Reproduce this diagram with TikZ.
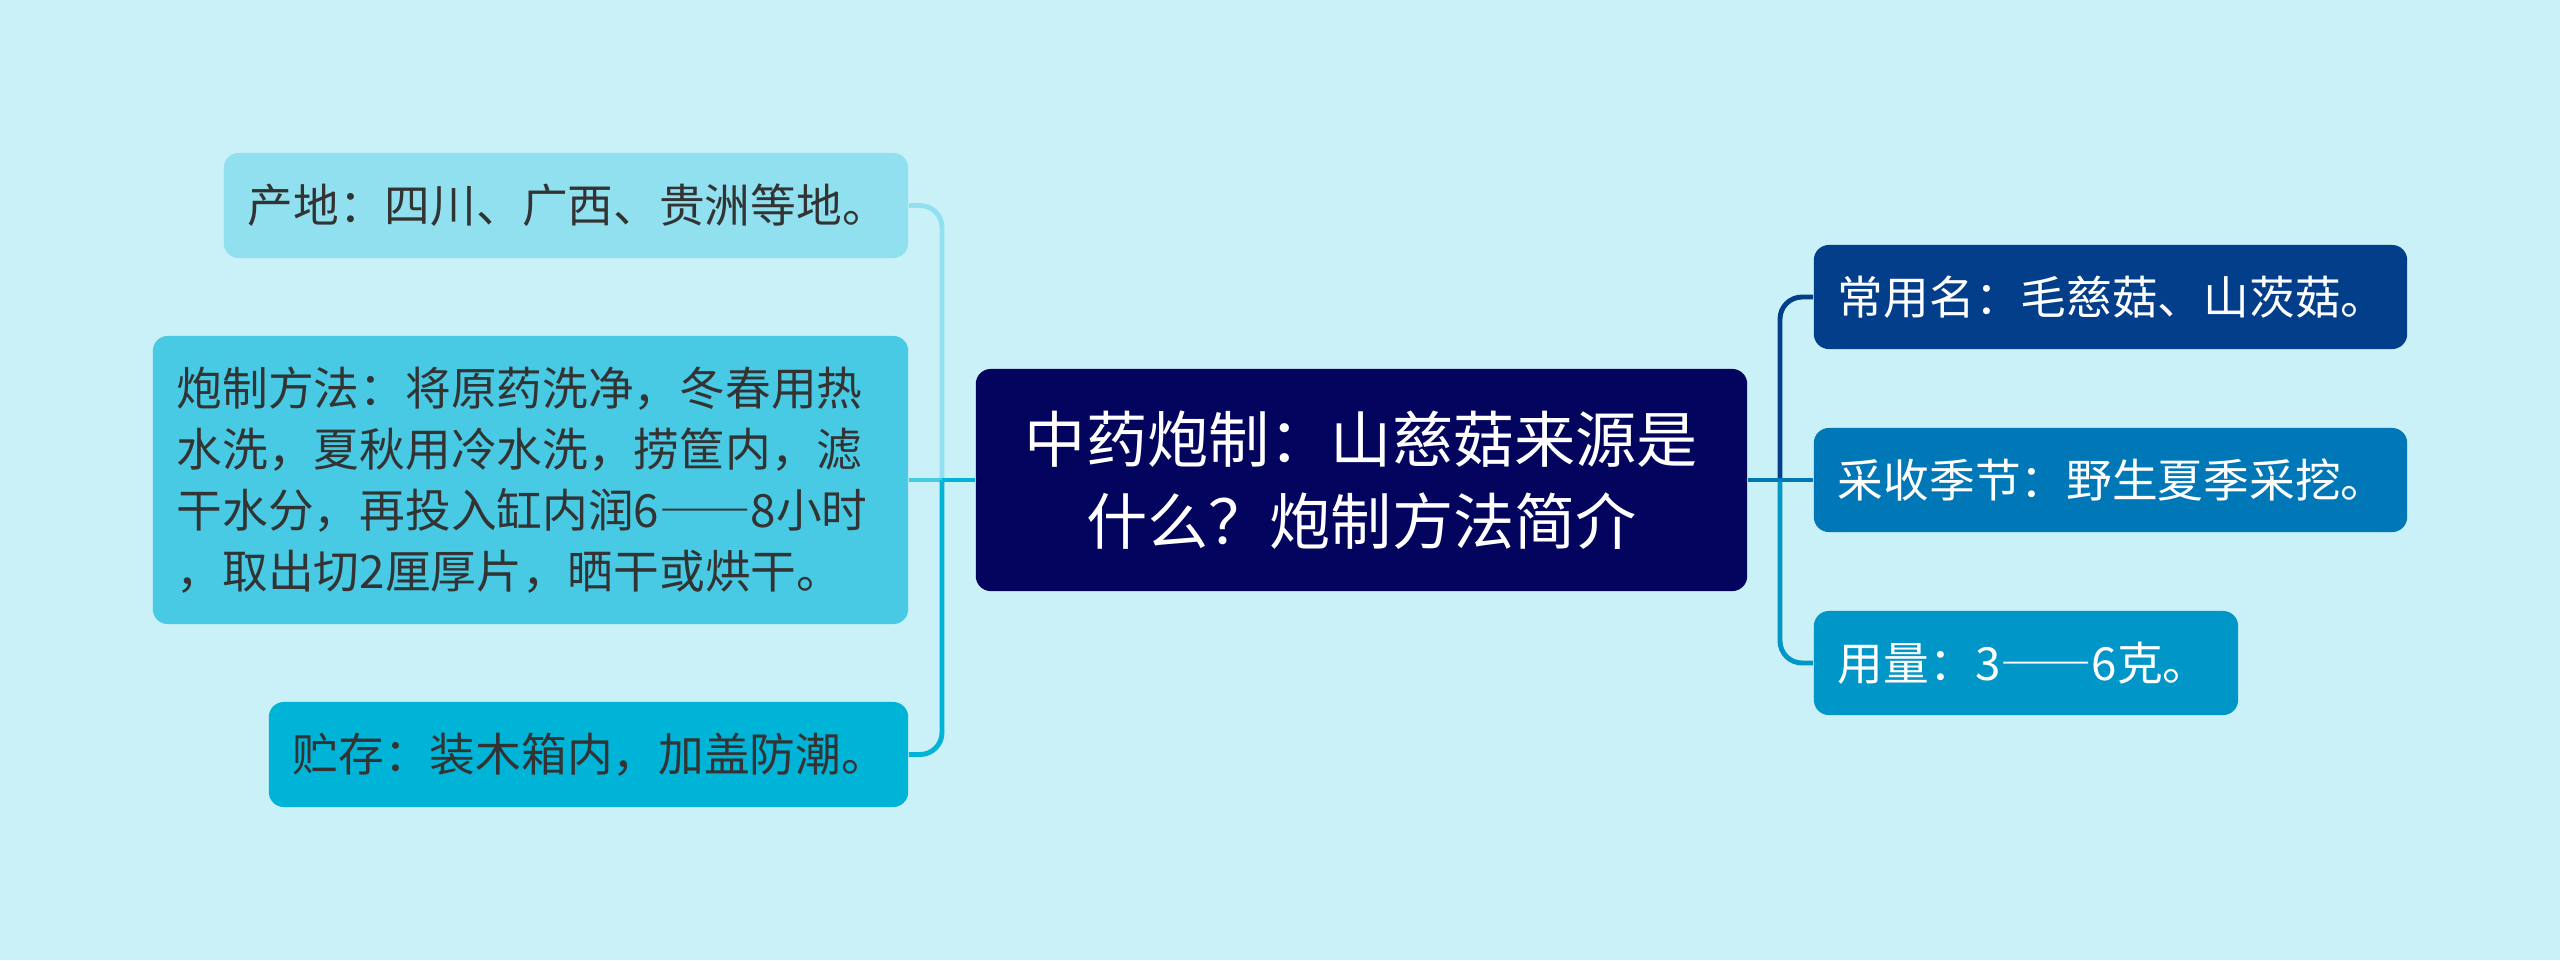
\documentclass[tikz,border=0pt]{standalone}
\usepackage{fontspec}
\newfontfamily\cjkfont{Noto Sans CJK SC}
\newcommand{\widedash}{{\addfontfeatures{RawFeature=+fwid}——}}

\definecolor{bgblue}{HTML}{CAF0F8}
\definecolor{rootblue}{HTML}{03045E}
\definecolor{paleblue}{HTML}{90E0EF}
\definecolor{skyblue}{HTML}{48CAE4}
\definecolor{cyanblue}{HTML}{00B4D8}
\definecolor{navyblue}{HTML}{023E8A}
\definecolor{midblue}{HTML}{0077B6}
\definecolor{seablue}{HTML}{0096C7}
\definecolor{textgray}{HTML}{333333}

\begin{document}
\begin{tikzpicture}[x=0.01cm,y=-0.01cm,
  box/.style={rounded corners=0.15cm, inner xsep=0.24cm, inner ysep=0pt,
    font=\cjkfont\fontsize{13pt}{17.3pt}\selectfont, align=left},
  leftbox/.style={box, text=textgray, minimum height=1.05cm},
  rightbox/.style={box, text=white, minimum height=1.04cm},
  link/.style={line width=1.4pt, rounded corners=0.22cm}]
\fill[bgblue] (0,0) rectangle (2560,960);
\useasboundingbox (0,0) rectangle (2560,960);

% centre
\node[box, fill=rootblue, text=white, align=center, text width=7.23cm,
  minimum height=2.22cm, font=\cjkfont\fontsize{17.4pt}{23.3pt}\selectfont]
  (root) at (1361.5,480) {中药炮制：山慈菇来源是\\什么？炮制方法简介};

% left side
\node[leftbox, fill=paleblue, text width=6.36cm] (origin) at (566,205.5)
  {产地：四川、广西、贵洲等地。};
\node[leftbox, fill=skyblue, text width=7.07cm, minimum height=2.88cm] (method) at (530.5,480)
  {炮制方法：将原药洗净，冬春用热\\水洗，夏秋用冷水洗，捞筐内，滤\\干水分，再投入缸内润6\widedash 8小时\\，取出切2厘厚片，晒干或烘干。};
\node[leftbox, fill=cyanblue, text width=5.91cm] (storage) at (588.5,754.5)
  {贮存：装木箱内，加盖防潮。};

% right side
\node[rightbox, fill=navyblue, text width=5.45cm] (alias) at (2110.5,297)
  {常用名：毛慈菇、山茨菇。};
\node[rightbox, fill=midblue, text width=5.45cm] (harvest) at (2110.5,480)
  {采收季节：野生夏季采挖。};
\node[rightbox, fill=seablue, text width=3.76cm] (dosage) at (2026,663)
  {用量：3\widedash 6克。};

\coordinate (ltrunk) at (942,480);
\coordinate (rtrunk) at (1780,480);

\draw[link, draw=paleblue] (ltrunk) |- (origin.east);
\draw[link, draw=skyblue] (method.east) -- (ltrunk);
\draw[link, draw=cyanblue] (ltrunk) |- (storage.east);
\draw[link, draw=cyanblue] (root.west) -- (ltrunk);

\draw[link, draw=navyblue] (rtrunk) |- (alias.west);
\draw[link, draw=seablue] (rtrunk) |- (dosage.west);
\draw[link, draw=midblue] (root.east) -- (harvest.west);
\end{tikzpicture}
\end{document}
